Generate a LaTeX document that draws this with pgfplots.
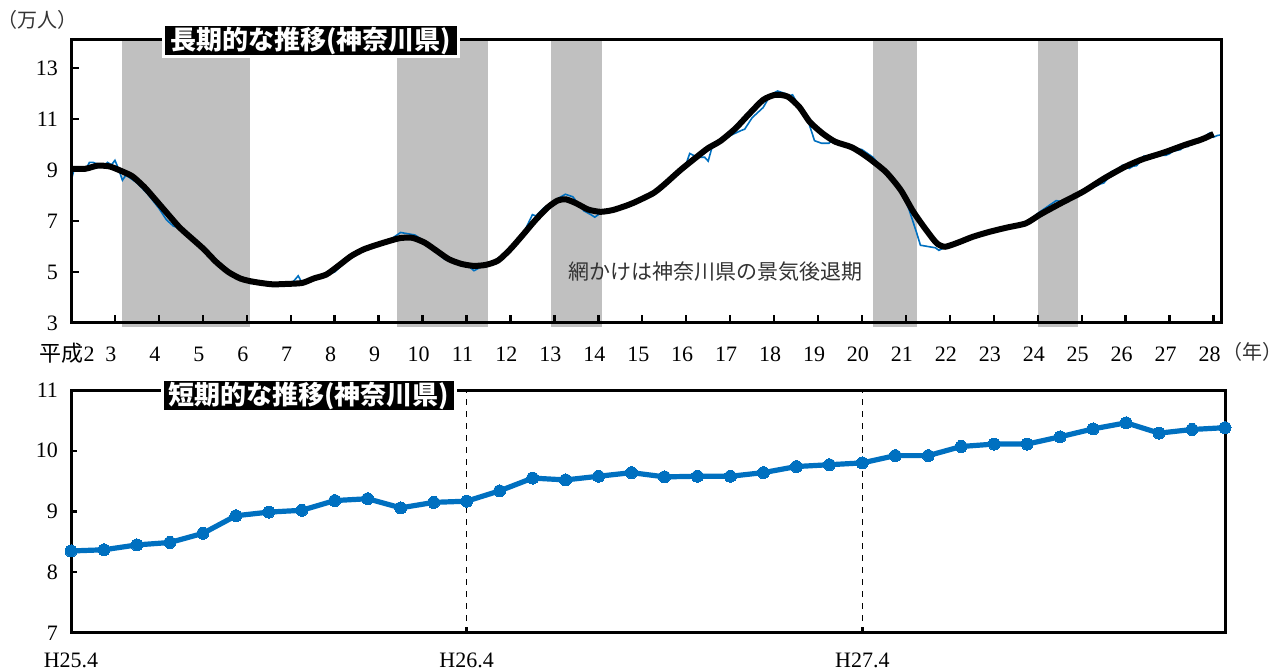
\documentclass[border=0pt]{standalone}
\usepackage{pgfplots}
\pgfplotsset{compat=1.18}
\usepackage{fontspec}
\setmainfont{Liberation Serif}
\newfontfamily\cjk{Noto Sans CJK JP}
\definecolor{xlblue}{HTML}{0070C0}
\definecolor{recgray}{HTML}{C0C0C0}
\begin{document}
\begin{tikzpicture}
\useasboundingbox (0,0) rectangle (642.5pt,334.5pt);
% ---------------- top panel ----------------
\begin{axis}[
  at={(35.5pt,173pt)}, anchor=south west,
  width=575pt, height=141.5pt, scale only axis,
  xmin=2, xmax=28.17, ymin=3, ymax=14.1,
  axis on top, clip=false,
  axis line style={line width=1.5pt},
  xtick={2,...,28},
  xticklabels={{\cjk 平成}2,3,4,5,6,7,8,9,10,11,12,13,14,15,16,17,18,19,20,21,22,23,24,25,26,27,28},
  ytick={3,5,7,9,11,13},
  xtick pos=lower, ytick pos=left,
  tick align=inside, major tick length=4pt,
  tick style={line width=1.2pt, black},
  /pgf/number format/assume math mode=true,
  xticklabel style={font=\fontsize{11}{13}\selectfont, text height=8pt, text depth=2pt, yshift=-7.5pt, xshift=-2pt},
  yticklabel style={font=\fontsize{11}{13}\selectfont, xshift=-3pt},
]
% recession shading
\addplot[fill=recgray, draw=none] coordinates {(3.17,2.84) (6.08,2.84) (6.08,14.1) (3.17,14.1)} -- cycle;
\addplot[fill=recgray, draw=none] coordinates {(9.42,2.84) (11.5,2.84) (11.5,14.1) (9.42,14.1)} -- cycle;
\addplot[fill=recgray, draw=none] coordinates {(12.92,2.84) (14.08,2.84) (14.08,14.1) (12.92,14.1)} -- cycle;
\addplot[fill=recgray, draw=none] coordinates {(20.25,2.84) (21.25,2.84) (21.25,14.1) (20.25,14.1)} -- cycle;
\addplot[fill=recgray, draw=none] coordinates {(24.0,2.84) (24.92,2.84) (24.92,14.1) (24.0,14.1)} -- cycle;
% raw (blue)
\addplot[xlblue, line width=0.8pt] coordinates {
(2.00,8.55) (2.08,9.10) (2.25,9.05) (2.33,9.00) (2.42,9.30) (2.50,9.30) (2.58,9.25) (2.67,9.20)
(2.75,9.10) (2.83,9.30) (2.92,9.20) (3.00,9.38) (3.08,9.05) (3.17,8.60) (3.25,8.80) (3.50,8.50)
(3.75,8.05) (4.00,7.50) (4.17,7.05) (4.33,6.80) (4.50,6.70) (4.75,6.30) (5.00,5.95) (5.25,5.55)
(5.50,5.10) (5.75,4.85) (6.00,4.65) (6.08,4.55) (6.25,4.62) (6.50,4.55) (6.75,4.55) (7.00,4.50)
(7.17,4.85) (7.25,4.60) (7.50,4.70) (7.75,4.85) (8.00,5.00) (8.25,5.40) (8.50,5.75) (8.75,5.90)
(9.00,6.05) (9.25,6.25) (9.50,6.55) (9.67,6.50) (9.83,6.45) (10.00,6.25) (10.25,5.90) (10.50,5.50)
(10.75,5.45) (11.00,5.30) (11.17,5.05) (11.33,5.20) (11.50,5.30) (11.75,5.55) (12.00,5.85) (12.25,6.35)
(12.50,7.25) (12.58,7.20) (12.75,7.50) (13.00,7.80) (13.25,8.05) (13.42,7.95) (13.67,7.40) (13.83,7.25)
(13.92,7.15) (14.08,7.35) (14.33,7.40) (14.50,7.55) (14.75,7.70) (15.00,7.90) (15.25,8.05) (15.50,8.40)
(15.75,8.80) (16.00,9.25) (16.08,9.65) (16.25,9.50) (16.42,9.50) (16.50,9.35) (16.58,9.85) (16.75,10.05)
(17.00,10.35) (17.25,10.55) (17.33,10.60) (17.50,11.05) (17.75,11.45) (17.92,11.95) (18.08,12.10) (18.25,12.00)
(18.33,11.90) (18.42,11.95) (18.58,11.45) (18.75,11.05) (18.92,10.15) (19.08,10.05) (19.25,10.05) (19.33,10.20)
(19.50,10.05) (19.75,9.90) (20.00,9.80) (20.25,9.50) (20.50,9.00) (20.75,8.60) (20.92,8.15) (21.08,7.40)
(21.25,6.50) (21.33,6.05) (21.50,6.00) (21.67,5.95) (21.75,5.85) (21.92,6.00) (22.00,6.05) (22.25,6.15)
(22.50,6.40) (22.75,6.55) (23.00,6.65) (23.25,6.75) (23.50,6.85) (23.75,6.95) (24.00,7.30) (24.25,7.60)
(24.42,7.80) (24.58,7.75) (24.75,7.95) (25.00,8.10)
(25.25,8.35) (25.33,8.37) (25.42,8.45) (25.50,8.49) (25.58,8.64) (25.67,8.93) (25.75,8.99) (25.83,9.02)
(25.92,9.18) (26.00,9.21) (26.08,9.06) (26.17,9.15) (26.25,9.17) (26.33,9.34) (26.42,9.55) (26.50,9.52)
(26.58,9.58) (26.67,9.64) (26.75,9.57) (26.83,9.58) (26.92,9.58) (27.00,9.64) (27.08,9.74) (27.17,9.77)
(27.25,9.80) (27.33,9.92) (27.42,9.92) (27.50,10.07) (27.58,10.11) (27.67,10.11) (27.75,10.23) (27.83,10.36)
(27.92,10.46) (28.00,10.29) (28.08,10.35) (28.17,10.38)
};
% trend (black)
\addplot[black, line width=3pt, smooth, tension=0.4] coordinates {
(2.00,9.05) (2.33,9.05) (2.60,9.17) (2.88,9.14) (3.16,8.95) (3.40,8.75) (3.67,8.33) (3.90,7.88)
(4.19,7.30) (4.47,6.75) (4.74,6.33) (5.02,5.90) (5.30,5.40) (5.58,5.00) (5.86,4.74) (6.14,4.62)
(6.56,4.52) (6.88,4.53) (7.26,4.57) (7.53,4.75) (7.81,4.90) (8.09,5.25) (8.37,5.62) (8.65,5.88)
(8.93,6.05) (9.21,6.20) (9.49,6.33) (9.77,6.34) (10.05,6.15) (10.33,5.82) (10.60,5.50) (10.88,5.32)
(11.16,5.24) (11.44,5.28) (11.72,5.45) (12.00,5.90) (12.28,6.45) (12.56,7.02) (12.84,7.52) (13.07,7.80)
(13.26,7.85) (13.49,7.70) (13.77,7.45) (14.05,7.36) (14.33,7.43) (14.60,7.58) (14.81,7.72) (15.24,8.08)
(15.48,8.40) (15.87,9.00) (16.20,9.46) (16.49,9.85) (16.78,10.14) (17.12,10.63) (17.41,11.16) (17.75,11.75)
(18.03,11.95) (18.31,11.88) (18.57,11.48) (18.81,10.89) (19.10,10.44) (19.39,10.11) (19.77,9.89) (20.11,9.52)
(20.54,8.93) (20.88,8.22) (21.17,7.36) (21.46,6.65) (21.70,6.13) (21.89,5.99) (22.18,6.15) (22.52,6.38)
(22.91,6.58) (23.29,6.74) (23.73,6.91) (24.06,7.26) (24.55,7.72) (25.03,8.15) (25.51,8.67) (25.99,9.13)
(26.38,9.42) (26.86,9.68) (27.34,9.98) (27.73,10.20) (28.00,10.41)
};
\end{axis}
% ---------------- bottom panel ----------------
\begin{axis}[
  at={(35.5pt,18pt)}, anchor=south west,
  width=577pt, height=121.5pt, scale only axis,
  xmin=0, xmax=35, ymin=7, ymax=11,
  axis on top, clip=false,
  axis line style={line width=1.5pt},
  xtick={0,12,24}, xticklabels={H25.4,H26.4,H27.4},
  ytick={7,8,9,10,11},
  xtick pos=lower, ytick pos=left,
  tick align=inside, major tick length=3pt,
  tick style={line width=1.2pt, black},
  /pgf/number format/assume math mode=true,
  xticklabel style={font=\fontsize{11}{13}\selectfont, text height=8pt, text depth=0pt, yshift=-5.5pt},
  yticklabel style={font=\fontsize{11}{13}\selectfont, xshift=-3pt},
]
\addplot[black, dashed, line width=0.8pt] coordinates {(12,7) (12,11)};
\addplot[black, dashed, line width=0.8pt] coordinates {(24,7) (24,11)};
\addplot[xlblue, line width=2.6pt, mark=*, mark size=3pt, mark options={fill=xlblue, draw=xlblue, line width=0pt}] coordinates {
(0,8.35) (1,8.37) (2,8.45) (3,8.49) (4,8.64) (5,8.93) (6,8.99) (7,9.02) (8,9.18) (9,9.21)
(10,9.06) (11,9.15) (12,9.17) (13,9.34) (14,9.55) (15,9.52) (16,9.58) (17,9.64) (18,9.57) (19,9.58)
(20,9.58) (21,9.64) (22,9.74) (23,9.77) (24,9.80) (25,9.92) (26,9.92) (27,10.07) (28,10.11) (29,10.11)
(30,10.23) (31,10.36) (32,10.46) (33,10.29) (34,10.35) (35,10.38)
};
\end{axis}
% ---------------- texts ----------------
\node[fill=black, draw=white, line width=1.5pt, text=white, minimum width=147.5pt, minimum height=16pt, inner sep=0pt, font=\cjk\bfseries\fontsize{13}{15}\selectfont] at (155.25pt,314pt) {長期的な推移(神奈川県)};
\node[fill=black, draw=white, line width=1.5pt, text=white, minimum width=146.5pt, minimum height=16pt, inner sep=0pt, font=\cjk\bfseries\fontsize{13}{15}\selectfont] at (154.25pt,136.5pt) {短期的な推移(神奈川県)};
\node[font=\cjk\fontsize{10.5}{12}\selectfont, text=black!80, inner sep=0pt] at (357.5pt,198.5pt) {網かけは神奈川県の景気後退期};
\node[font=\cjk\fontsize{10}{12}\selectfont, text=black!80, inner sep=0pt] at (18.5pt,324.5pt) {（万人）};
\node[font=\cjk\fontsize{10}{12}\selectfont, text=black!80, inner sep=0pt] at (626pt,158.5pt) {（年）};
\end{tikzpicture}
\end{document}
